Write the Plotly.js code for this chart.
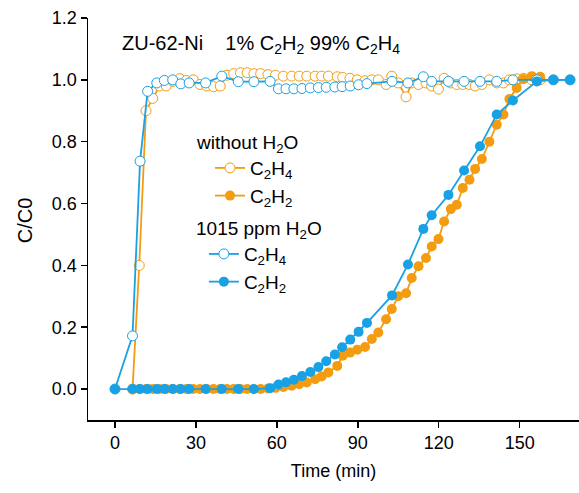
<!DOCTYPE html>
<html>
<head>
<meta charset="utf-8">
<script src="https://cdn.plot.ly/plotly-3.0.1.min.js"></script>
<style>
  html, body { margin: 0; padding: 0; background: #ffffff; }
  #chart { width: 579px; height: 493px; }
</style>
</head>
<body>
<div id="chart"></div>
<script>
// Time (min) for the run without H2O
const tDry = [6.5, 9, 11.5, 14, 16.5, 19, 21.5, 24, 26.5, 29,
  31.5, 34, 36.5, 39, 41.5, 44, 46.5, 49, 51.5, 54,
  56.7, 59.5, 62.4, 65.5, 68.3, 71.1, 74.2, 76.6, 79.1, 82.4,
  84.4, 87.1, 89.8, 92.7, 95.2, 97.6, 100.5, 102.6, 105, 107.9,
  110, 112.5, 115.3, 117.4, 119.9, 122, 124.5, 126.7, 128.9, 131.4,
  133.5, 136, 138.8, 141.5, 144, 146.2, 148.9, 151.4, 154.5, 157.6];
const dryC2H4 = [0, 0.40, 0.90, 0.94, 0.98, 0.98, 0.995, 1.004, 0.998, 1.0,
  0.985, 0.98, 0.978, 0.98, 1.015, 1.02, 1.023, 1.023, 1.02, 1.02,
  1.017, 1.015, 1.012, 1.012, 1.012, 1.012, 1.012, 1.012, 1.012, 1.01,
  1.008, 1.005, 1.0, 0.997, 1.0, 1.0, 0.985, 1.012, 0.99, 0.945,
  0.99, 0.985, 0.99, 0.98, 0.97, 1.005, 0.99, 0.985, 0.985, 0.985,
  0.98, 0.985, 1.0, 0.99, 0.99, 1.0, 1.003, 1.005, 1.0, 1.0];
const dryC2H2 = [0, 0, 0, 0, 0, 0, 0, 0, 0, 0,
  0, 0, 0, 0, 0, 0, 0, 0, 0, 0,
  0.002, 0.004, 0.007, 0.011, 0.016, 0.021, 0.032, 0.041, 0.054, 0.075,
  0.108, 0.118, 0.127, 0.136, 0.162, 0.183, 0.226, 0.259, 0.30, 0.31,
  0.359, 0.397, 0.424, 0.461, 0.485, 0.542, 0.582, 0.596, 0.65, 0.677,
  0.712, 0.744, 0.80, 0.855, 0.888, 0.938, 0.974, 1.003, 1.012, 1.01];

// Time (min) for the run with 1015 ppm H2O
const tWet = [0, 6.5, 9.3, 12.1, 15.5, 18.3, 21.4, 24.4, 27.5, 33.6,
  39.6, 45.7, 51.5, 57.5, 60.6, 63.4, 66.3, 69.3, 72.4, 75.4,
  78.3, 81.5, 84.2, 87.2, 90.3, 93.4, 102.7, 108.6, 114.3, 117.4,
  123.6, 129.4, 135.3, 141.5, 147.5, 156.4, 162.5, 168.7];
const wetC2H4 = [0, 0.172, 0.737, 0.963, 0.99, 0.998, 1.0, 0.987, 0.99, 0.99,
  1.012, 0.994, 0.994, 0.995, 0.971, 0.971, 0.971, 0.972, 0.974, 0.975,
  0.976, 0.977, 0.978, 0.98, 0.984, 0.988, 0.995, 0.99, 1.01, 0.995,
  0.995, 0.995, 0.995, 0.995, 1.0, 1.0, 1.0, 1.0];
const wetC2H2 = [0, 0, 0, 0, 0, 0, 0, 0, 0, 0,
  0, 0, 0, 0.003, 0.015, 0.022, 0.03, 0.042, 0.055, 0.071,
  0.09, 0.112, 0.135, 0.16, 0.185, 0.214, 0.303, 0.403, 0.518, 0.562,
  0.628, 0.707, 0.785, 0.888, 0.933, 0.995, 1.0, 1.0];

const xTicks = [0, 30, 60, 90, 120, 150];
const yTicks = [0.0, 0.2, 0.4, 0.6, 0.8, 1.0, 1.2];

const ORANGE = '#f39c12';
const BLUE = '#18a1e4';
const FONT = 'Liberation Sans, Arial, sans-serif';

function openTrace(x, y, color, name, legendId) {
  return {
    x: x, y: y, type: 'scatter', mode: 'lines+markers', name: name,
    legend: legendId,
    line: {color: color, width: 1.8},
    marker: {symbol: 'circle', size: 10, color: '#ffffff', line: {color: color, width: 1}},
    cliponaxis: false
  };
}
function filledTrace(x, y, color, name, legendId) {
  return {
    x: x, y: y, type: 'scatter', mode: 'lines+markers', name: name,
    legend: legendId,
    line: {color: color, width: 1.8},
    marker: {symbol: 'circle', size: 10, color: color, line: {width: 0}},
    cliponaxis: false
  };
}

const data = [
  openTrace(tDry, dryC2H4, ORANGE, 'C<sub>2</sub>H<sub>4</sub>', 'legend'),
  filledTrace(tDry, dryC2H2, ORANGE, 'C<sub>2</sub>H<sub>2</sub>', 'legend'),
  openTrace(tWet, wetC2H4, BLUE, 'C<sub>2</sub>H<sub>4</sub>', 'legend2'),
  filledTrace(tWet, wetC2H2, BLUE, 'C<sub>2</sub>H<sub>2</sub>', 'legend2')
];

const legendBase = {
  xanchor: 'left', yanchor: 'top',
  bgcolor: 'rgba(0,0,0,0)', borderwidth: 0,
  traceorder: 'normal',
  font: {family: FONT, size: 19, color: '#000'}
};

const layout = {
  width: 579, height: 493,
  margin: {l: 88, r: 0, t: 18, b: 73, pad: 0},
  paper_bgcolor: '#ffffff', plot_bgcolor: '#ffffff',
  font: {family: FONT, size: 18, color: '#000'},
  showlegend: true,
  legend: Object.assign({x: 0.2485, y: 0.674}, legendBase),
  legend2: Object.assign({x: 0.236, y: 0.460}, legendBase),
  xaxis: {
    range: [-10, 172], tickmode: 'array', tickvals: xTicks,
    ticks: 'outside', ticklen: 6, tickwidth: 1.5, tickcolor: '#000',
    showline: true, linecolor: '#000', linewidth: 1.5,
    showgrid: false, zeroline: false,
    tickfont: {family: FONT, size: 18, color: '#000'},
    title: {text: 'Time (min)', font: {family: FONT, size: 18, color: '#000'}, standoff: 12}
  },
  yaxis: {
    range: [-0.1, 1.2], tickmode: 'array', tickvals: yTicks,
    tickformat: '.1f',
    ticks: 'outside', ticklen: 6, tickwidth: 1.5, tickcolor: '#000',
    showline: true, linecolor: '#000', linewidth: 1.5,
    showgrid: false, zeroline: false,
    tickfont: {family: FONT, size: 18, color: '#000'}
  },
  annotations: [
    {
      text: 'ZU-62-Ni&nbsp;&nbsp;&nbsp;&nbsp;1% C<sub>2</sub>H<sub>2</sub> 99% C<sub>2</sub>H<sub>4</sub>',
      xref: 'paper', yref: 'paper', x: 0.066, y: 0.933, xanchor: 'left', yanchor: 'middle',
      showarrow: false, font: {family: FONT, size: 20, color: '#000'}
    },
    {
      text: 'without H<sub>2</sub>O',
      xref: 'paper', yref: 'paper', x: 0.216, y: 0.6866, xanchor: 'left', yanchor: 'middle',
      showarrow: false, font: {family: FONT, size: 19, color: '#000'}
    },
    {
      text: '1015 ppm H<sub>2</sub>O',
      xref: 'paper', yref: 'paper', x: 0.216, y: 0.4726, xanchor: 'left', yanchor: 'middle',
      showarrow: false, font: {family: FONT, size: 19, color: '#000'}
    },
    {
      text: 'C/C0', xref: 'paper', yref: 'paper', x: -0.128, y: 0.4975,
      xanchor: 'center', yanchor: 'middle', textangle: -90,
      showarrow: false, font: {family: FONT, size: 20, color: '#000'}
    }
  ]
};

Plotly.newPlot('chart', data, layout, {displayModeBar: false, staticPlot: true});
</script>
</body>
</html>
